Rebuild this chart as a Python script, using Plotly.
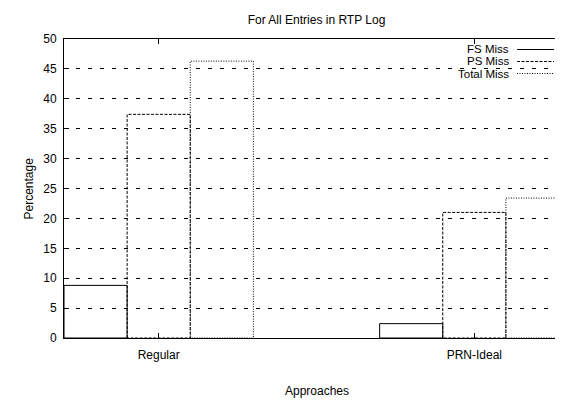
import plotly.graph_objects as go

categories = ["Regular", "PRN-Ideal"]
series_names = ["FS Miss", "PS Miss", "Total Miss"]
fs_miss = [8.8, 2.4]
ps_miss = [37.4, 21.0]
total_miss = [46.3, 23.4]

series_values = [fs_miss, ps_miss, total_miss]
dashes = ["solid", "3px,1.5px", "1px,1.5px"]
bar_w = 0.2
offsets = [-0.2, 0.0, 0.2]
FONT = "Liberation Sans, Arial, Helvetica, sans-serif"
FS = 12

# plot area in pixels: x 56..561, y 31..330
L, R, T, B, W, H = 56, 2, 31, 70, 563, 400
PW, PH = W - L - R, H - T - B


def px(x):
    return (x - L) / PW


def py(y):
    return (H - B - y) / PH


fig = go.Figure()
for name, vals, dash, off in zip(series_names, series_values, dashes, offsets):
    xs, ys = [], []
    for i, v in enumerate(vals):
        x0 = i + off - bar_w / 2
        x1 = i + off + bar_w / 2
        xs += [x0, x0, x1, x1, x0, None]
        ys += [0, v, v, 0, 0, None]
    fig.add_trace(go.Scatter(x=xs, y=ys, mode="lines", name=name,
                             line=dict(color="black", width=1, dash=dash),
                             showlegend=False, hoverinfo="skip"))

# gnuplot-style legend: text right-aligned, line sample on the right
leg_rows = [41.5, 53.5, 65.5]
for name, dash, yy in zip(series_names, dashes, leg_rows):
    fig.add_annotation(x=px(502), y=py(yy), xref="paper", yref="paper", text=name,
                       showarrow=False, xanchor="right", yanchor="middle",
                       borderpad=0,
                       font=dict(family=FONT, size=11.5, color="black"))
    fig.add_shape(type="line", xref="paper", yref="paper", x0=px(509), x1=px(546),
                  y0=py(yy), y1=py(yy), line=dict(color="black", width=1, dash=dash))

# axis titles
fig.add_annotation(x=0.5, y=py(383), xref="paper", yref="paper", text="Approaches",
                   showarrow=False, xanchor="center", yanchor="middle",
                   font=dict(family=FONT, size=FS, color="black"))
fig.add_annotation(x=px(20), y=0.5, xref="paper", yref="paper", text="Percentage",
                   showarrow=False, xanchor="center", yanchor="middle", textangle=-90,
                   font=dict(family=FONT, size=FS, color="black"))

fig.update_layout(
    width=W, height=H,
    margin=dict(l=L, r=R, t=T, b=B),
    paper_bgcolor="white", plot_bgcolor="white",
    font=dict(family=FONT, size=FS, color="black"),
    title=dict(text="For All Entries in RTP Log", x=0.5, xref="paper",
               y=1 - 12 / H, yanchor="middle", yref="container",
               font=dict(size=FS)),
    showlegend=False,
)
fig.update_xaxes(range=[-0.3, 1.3], tickvals=[0, 1], ticktext=categories,
                 ticks="inside", ticklen=5, tickcolor="black", mirror="allticks",
                 showline=True, linecolor="black", linewidth=1, showgrid=False,
                 zeroline=False, ticklabelstandoff=6)
fig.update_yaxes(range=[0, 50], dtick=5, ticks="inside", ticklen=5,
                 tickcolor="black", mirror="allticks", showline=True,
                 linecolor="black", linewidth=1, showgrid=True,
                 gridcolor="black", gridwidth=1, griddash="4px,8px",
                 zeroline=False, ticklabelstandoff=4)

fig.write_html("out.html")
